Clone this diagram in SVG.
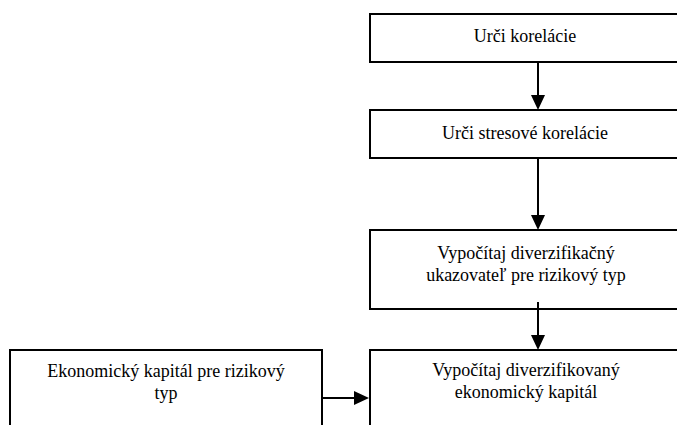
<svg xmlns="http://www.w3.org/2000/svg" width="677" height="425" viewBox="0 0 677 425">
<style>
.box{fill:#fff;stroke:#000;stroke-width:2}
.t{font-family:"Liberation Serif","Times New Roman",serif;font-size:18px;fill:#000;text-anchor:middle}
.c{stroke:#000;stroke-width:2;fill:none}
</style>
<defs>
<marker id="ah" markerWidth="8" markerHeight="7" refX="8" refY="3.5" orient="auto" markerUnits="userSpaceOnUse" viewBox="0 0 8 7">
<polygon points="0,0 8,3.5 0,7" fill="#000"/>
</marker>
</defs>
<rect width="677" height="425" fill="#fff"/>
<g id="n1">
<rect class="box" x="370" y="14" width="312" height="48"/>
<text class="t" x="525" y="42">Urči korelácie</text>
</g>
<g id="n2">
<rect class="box" x="370" y="110" width="312" height="48"/>
<text class="t" x="525" y="139">Urči stresové korelácie</text>
</g>
<g id="n3">
<rect class="box" x="370" y="230" width="312" height="79"/>
<text class="t" x="526" y="259">Vypočítaj diverzifikačný</text>
<text class="t" x="526" y="281">ukazovateľ pre rizikový typ</text>
</g>
<g id="n4">
<rect class="box" x="370" y="350" width="312" height="90"/>
<text class="t" x="526" y="376">Vypočítaj diverzifikovaný</text>
<text class="t" x="526" y="398">ekonomický kapitál</text>
</g>
<g id="n5">
<rect class="box" x="10" y="350" width="312" height="90"/>
<text class="t" x="166" y="377">Ekonomický kapitál pre rizikový</text>
<text class="t" x="166" y="399">typ</text>
</g>
<g id="connectors">
<line class="c" x1="538" y1="62" x2="538" y2="96"/>
<polygon points="531,95 545,95 538,110" fill="#000"/>
<line class="c" x1="538" y1="158" x2="538" y2="216"/>
<polygon points="531,215 545,215 538,230" fill="#000"/>
<line class="c" x1="538" y1="302" x2="538" y2="336"/>
<polygon points="531,335 545,335 538,350" fill="#000"/>
<line class="c" x1="322" y1="398" x2="356" y2="398"/>
<polygon points="354,391 354,405 369,398" fill="#000"/>
</g>
</svg>
